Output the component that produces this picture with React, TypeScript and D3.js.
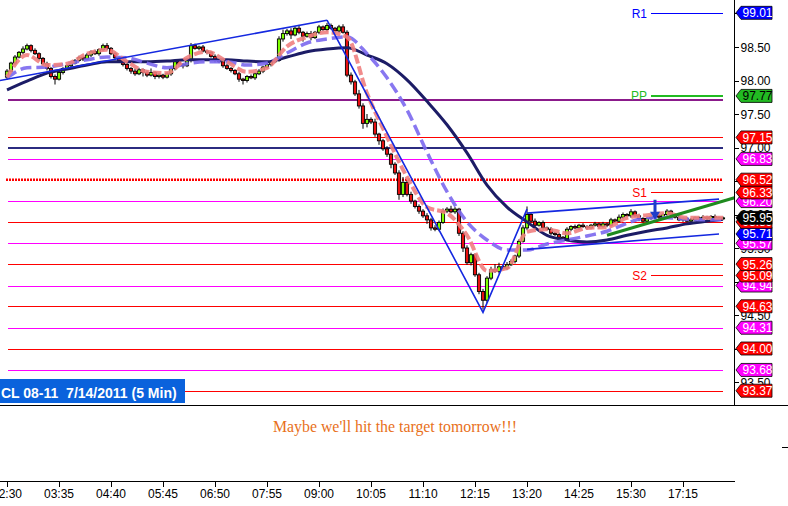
import React from 'react';
import * as d3 from 'd3';

// 5 minute bars, with the daily halt between 16:15 and 17:00
const sessions: [string, string][] = [['02:30', '16:15'], ['17:00', '18:05']];
const parseHM = d3.timeParse('%H:%M');
const fmtHM = d3.timeFormat('%H:%M');
const times: string[] = sessions.flatMap(([a, b]) =>
  d3.timeMinute.every(5)!.range(parseHM(a)!, d3.timeMinute.offset(parseHM(b)!, 1)).map(fmtHM)
);

const timeTicks = ['02:30', '03:35', '04:40', '05:45', '06:50', '07:55', '09:00', '10:05', '11:10', '12:15', '13:20', '14:25', '15:30', '17:15'];
const priceTicks = [93.5, 94.0, 94.5, 95.0, 95.5, 96.0, 96.5, 97.0, 97.5, 98.0, 98.5, 99.0];

const firstOpen = 98.05;
const closes = [
  98.14, 98.26, 98.35, 98.42, 98.47, 98.52, 98.45, 98.40, 98.33, 98.25,
  98.18, 98.06, 98.02, 98.12, 98.18, 98.22, 98.26, 98.30, 98.34, 98.32,
  98.38, 98.43, 98.40, 98.46, 98.52, 98.48, 98.40, 98.34, 98.30, 98.24,
  98.18, 98.14, 98.10, 98.16, 98.12, 98.08, 98.12, 98.06, 98.08, 98.05,
  98.10, 98.18, 98.28, 98.24, 98.22, 98.30, 98.52, 98.48, 98.50, 98.44,
  98.42, 98.36, 98.30, 98.28, 98.22, 98.18, 98.15, 98.10, 98.02, 98.00,
  98.06, 98.04, 98.10, 98.14, 98.20, 98.24, 98.28, 98.30, 98.62, 98.70,
  98.74, 98.68, 98.78, 98.72, 98.66, 98.70, 98.64, 98.72, 98.80, 98.76,
  98.82, 98.78, 98.74, 98.80, 98.72, 98.08, 97.98, 97.80, 97.62, 97.36,
  97.42, 97.38, 97.20, 97.10, 96.98, 96.90, 96.75, 96.62, 96.30, 96.48,
  96.30, 96.20, 96.12, 96.05, 95.98, 95.92, 95.80, 95.78, 95.88, 96.05,
  96.08, 96.04, 96.08, 95.72, 95.50, 95.28, 95.40, 95.10, 94.85, 94.72,
  95.05, 95.18, 95.15, 95.22, 95.20, 95.25, 95.30, 95.38, 95.60, 95.80,
  96.00, 95.90, 95.84, 95.88, 95.80, 95.78, 95.72, 95.70, 95.66, 95.64,
  95.78, 95.82, 95.80, 95.84, 95.82, 95.80, 95.84, 95.86, 95.82, 95.86,
  95.84, 95.92, 95.90, 95.96, 96.00, 95.98, 96.04, 95.98, 95.94, 95.90,
  95.94, 95.96, 95.98, 95.96, 96.00, 96.05, 96.00, 95.96, 95.92, 95.94,
  95.90, 95.92, 95.95, 95.93, 95.96, 95.94, 95.97, 95.95, 95.94, 95.95,
];
// wick lengths above / below the body, in cents
const wickHi = [
  3, 2, 3, 2, 4, 3, 2, 3, 2, 2, 3, 2, 3, 3, 2, 2, 3, 2, 3, 2,
  3, 2, 3, 2, 3, 4, 2, 3, 2, 2, 3, 2, 4, 3, 2, 3, 6, 2, 3, 2,
  3, 3, 2, 4, 2, 3, 4, 3, 2, 3, 2, 2, 3, 2, 2, 3, 2, 2, 3, 2,
  2, 3, 2, 3, 2, 3, 2, 3, 4, 6, 3, 4, 3, 5, 2, 3, 4, 2, 3, 2,
  4, 3, 2, 3, 4, 3, 4, 3, 6, 4, 8, 3, 5, 2, 3, 4, 2, 3, 4, 8,
  3, 4, 2, 3, 3, 4, 3, 4, 3, 4, 3, 5, 3, 2, 3, 4, 3, 2, 3, 4,
  3, 4, 8, 6, 3, 4, 3, 2, 3, 4, 12, 3, 4, 2, 3, 2, 3, 2, 3, 2,
  3, 2, 3, 2, 3, 2, 2, 3, 2, 3, 2, 3, 2, 4, 3, 2, 4, 2, 3, 2,
  2, 3, 2, 3, 2, 3, 2, 2, 3, 2, 2, 3, 2, 2, 3, 2, 2, 3, 2, 2,
];
const wickLo = [
  4, 2, 3, 2, 3, 2, 3, 2, 3, 2, 3, 3, 8, 2, 3, 2, 3, 2, 2, 3,
  2, 3, 2, 3, 2, 3, 2, 3, 2, 3, 3, 4, 3, 2, 6, 3, 2, 4, 3, 3,
  2, 3, 3, 2, 4, 2, 3, 2, 3, 2, 3, 2, 3, 2, 3, 2, 3, 2, 4, 6,
  3, 2, 3, 2, 3, 2, 3, 2, 2, 4, 3, 6, 2, 3, 8, 2, 4, 2, 3, 2,
  3, 2, 4, 3, 2, 3, 4, 3, 4, 8, 6, 3, 4, 6, 3, 4, 6, 3, 8, 4,
  3, 4, 3, 4, 3, 6, 4, 3, 3, 2, 3, 2, 3, 4, 6, 3, 4, 3, 4, 14,
  4, 3, 2, 3, 2, 3, 2, 3, 3, 2, 3, 2, 3, 2, 3, 2, 3, 2, 3, 2,
  2, 3, 2, 3, 2, 3, 2, 2, 3, 2, 3, 2, 3, 2, 3, 2, 3, 2, 4, 2,
  3, 2, 2, 3, 2, 2, 3, 2, 2, 3, 2, 3, 2, 3, 2, 2, 3, 2, 2, 2,
];

// moving averages, read every 5th bar
const maBars = [0, 5, 10, 15, 20, 25, 30, 35, 40, 45, 50, 55, 60, 65, 70, 75, 80, 85, 90, 95, 100, 105, 110, 115, 120, 125, 130, 135, 140, 145, 150, 155, 160, 165, 170, 175, 179];
const fastMa = [98.05, 98.38, 98.23, 98.25, 98.40, 98.46, 98.28, 98.13, 98.11, 98.34, 98.43, 98.28, 98.13, 98.19, 98.51, 98.65, 98.72, 98.65, 97.81, 97.16, 96.56, 96.11, 96.02, 95.69, 95.16, 95.20, 95.74, 95.78, 95.72, 95.80, 95.81, 95.95, 95.99, 96.02, 95.95, 95.95, 95.95];
const midMa = [98.04, 98.19, 98.20, 98.25, 98.31, 98.35, 98.34, 98.26, 98.19, 98.25, 98.28, 98.28, 98.23, 98.26, 98.41, 98.56, 98.62, 98.65, 98.40, 98.04, 97.56, 96.93, 96.34, 95.89, 95.62, 95.47, 95.47, 95.56, 95.62, 95.68, 95.75, 95.87, 95.95, 95.95, 95.93, 95.92, 95.92];
const slowMa = [97.86, 97.99, 98.11, 98.17, 98.23, 98.28, 98.28, 98.28, 98.29, 98.31, 98.31, 98.31, 98.29, 98.28, 98.35, 98.43, 98.47, 98.49, 98.38, 98.25, 98.01, 97.69, 97.34, 96.92, 96.44, 96.11, 95.89, 95.69, 95.62, 95.59, 95.62, 95.69, 95.75, 95.80, 95.86, 95.90, 95.93];

// levels
const redLevels = [97.15, 95.89, 95.26, 94.63, 94.0, 93.37];
const magentaLevels = [96.83, 96.2, 95.57, 94.94, 94.31, 93.68];
const purpleLevel = 97.71;
const navyLevel = 97.0;
const dottedLevel = 96.52;
const pivotNames = ['R1', 'PP', 'S1', 'S2'];
const pivotValues = [99.01, 97.77, 96.33, 95.09];
const pivotStart = '15:55';

// drawn lines: [time, price]
const upperTrend: [string, number][] = [['02:30', 98.02], ['09:10', 98.9]];
const zigzag: [string, number][] = [['09:10', 98.9], ['12:25', 94.54], ['13:20', 96.08]];
const channelTop: [string, number][] = [['13:20', 96.02], ['18:00', 96.23]];
const channelBottom: [string, number][] = [['13:20', 95.48], ['18:00', 95.71]];
const greenTrend: [string, number][] = [['15:00', 95.69], ['18:05', 96.2]];
const arrowMark: [string, number, number] = ['16:00', 96.22, 95.92];

const title = 'CL 08-11  7/14/2011 (5 Min)';
const note = "Maybe we'll hit the target tomorrow!!!";

const C = {
  red: '#ff0000', magenta: '#ff00ff', purple: '#8b1a8b', navy: '#2b2b80',
  blue: '#0000ff', green: '#22bb22', up: '#7fff00', down: '#e81010',
  fast: '#f08080', mid: '#7b68ee', slow: '#1c1c66', trend: '#1428e0',
  greenTrend: '#1f8a1f', arrow: '#1f3cc8', box: '#0a62dc', note: '#e8701a',
};

const font = 'Liberation Sans, Arial, sans-serif';

export default function App() {
  const n = times.length;
  const xi = d3.scaleLinear().domain([0, n - 1]).range([7, 723]);
  const x = (t: string) => xi(times.indexOf(t));
  const y = d3.scaleLinear().domain([98.5, 93.5]).range([47, 382]);
  const yc = (v: number) => Math.round(y(v)) + 0.5; // crisp 1px rules
  const left = 8;
  const right = xi(n - 1);
  const axisX = 734.5;
  const panelBottom = 405;
  const timeAxisY = 481;

  const candles = closes.map((c, i) => {
    const o = i === 0 ? firstOpen : closes[i - 1];
    const h = Math.max(o, c) + wickHi[i] / 100;
    const l = Math.min(o, c) - wickLo[i] / 100;
    return { i, o, c, h, l };
  });

  const maLine = d3
    .line<number>()
    .x((_, k) => xi(maBars[k]))
    .y((v) => y(v))
    .curve(d3.curveMonotoneX);

  const seg = d3
    .line<[string, number]>()
    .x((d) => x(d[0]))
    .y((d) => y(d[1]));

  // extend a two point line to a given pixel x
  const ray = (pts: [string, number][], toLeft: number | null, toRight: number | null) => {
    const x1 = x(pts[0][0]), y1 = y(pts[0][1]);
    const x2 = x(pts[1][0]), y2 = y(pts[1][1]);
    const k = (y2 - y1) / (x2 - x1);
    const a = toLeft == null ? [x1, y1] : [toLeft, y1 + k * (toLeft - x1)];
    const b = toRight == null ? [x2, y2] : [toRight, y2 + k * (toRight - x2)];
    return `M${a[0]},${a[1]}L${b[0]},${b[1]}`;
  };

  const tags: { v: number; bg: string; fg: string }[] = [
    ...pivotValues.map((v, k) => ({ v, bg: [C.blue, C.green, C.red, C.red][k], fg: k === 1 ? '#000' : '#fff' })),
    ...redLevels.map((v) => ({ v, bg: C.red, fg: '#fff' })),
    { v: dottedLevel, bg: C.red, fg: '#fff' },
    ...magentaLevels.map((v) => ({ v, bg: C.magenta, fg: '#fff' })),
    { v: channelBottom[1][1], bg: C.blue, fg: '#fff' },
    { v: closes[n - 1], bg: '#000', fg: '#fff' },
  ];
  // upper tags sit on top of the ones below, the last price on top of all
  const tagOrder = [...tags].sort((a, b) => a.v - b.v);
  const drawOrder = [...tagOrder.filter((t) => t.bg !== '#000'), ...tagOrder.filter((t) => t.bg === '#000')];

  const tagPath = (cy: number) =>
    `M${axisX + 1.5},${cy}L${axisX + 6.5},${cy - 6.5}L772,${cy - 6.5}L772,${cy + 6.5}L${axisX + 6.5},${cy + 6.5}Z`;

  return (
    <svg width={788} height={506} style={{ position: 'absolute', left: 0, top: 0, background: '#fff' }} fontFamily={font}>
      <rect width={788} height={506} fill="#fff" />

      {/* levels */}
      <g shapeRendering="crispEdges">
        {redLevels.map((v) => (
          <line key={'r' + v} x1={left} x2={right} y1={yc(v)} y2={yc(v)} stroke={C.red} strokeWidth={1} />
        ))}
        {magentaLevels.map((v) => (
          <line key={'m' + v} x1={left} x2={right} y1={yc(v)} y2={yc(v)} stroke={C.magenta} strokeWidth={1} />
        ))}
        <line x1={left} x2={right} y1={Math.round(y(purpleLevel))} y2={Math.round(y(purpleLevel))} stroke={C.purple} strokeWidth={2} />
        <line x1={left} x2={right} y1={Math.round(y(navyLevel))} y2={Math.round(y(navyLevel))} stroke={C.navy} strokeWidth={2} />
      </g>
      <line x1={left - 2} x2={right} y1={y(dottedLevel)} y2={y(dottedLevel)} stroke={C.red} strokeWidth={2.5} strokeDasharray="2,1" />

      {pivotNames.map((name, k) => {
        const col = [C.blue, C.green, C.red, C.red][k];
        const yy = k === 1 ? Math.round(y(pivotValues[k])) : yc(pivotValues[k]);
        return (
          <g key={name}>
            <line x1={x(pivotStart)} x2={right} y1={yy} y2={yy} stroke={col} strokeWidth={k === 1 ? 2 : 1} shapeRendering="crispEdges" />
            <text x={x(pivotStart) - 4} y={yy + 4} textAnchor="end" fontSize={12} fill={col}>{name}</text>
          </g>
        );
      })}

      {/* candles */}
      {candles.map((d) => {
        const cx = xi(d.i);
        const top = y(Math.max(d.o, d.c));
        const bot = y(Math.min(d.o, d.c));
        return (
          <g key={d.i}>
            <line x1={cx} x2={cx} y1={y(d.h)} y2={y(d.l)} stroke="#000" strokeWidth={1} />
            <rect x={cx - 1.6} y={top} width={3.2} height={Math.max(1, bot - top)} fill={d.c >= d.o ? C.up : C.down} stroke="#000" strokeWidth={0.9} />
          </g>
        );
      })}

      {/* moving averages */}
      <path d={maLine(slowMa) ?? ''} fill="none" stroke={C.slow} strokeWidth={3} />
      <path d={maLine(midMa) ?? ''} fill="none" stroke={C.mid} strokeWidth={3.5} strokeDasharray="11,5" opacity={0.9} />
      <path d={maLine(fastMa) ?? ''} fill="none" stroke={C.fast} strokeWidth={4} strokeDasharray="9,3" opacity={0.9} />

      {/* drawn lines */}
      <path d={ray(upperTrend, 0, null)} stroke={C.trend} strokeWidth={1.6} fill="none" />
      <path d={seg(zigzag) ?? ''} stroke={C.trend} strokeWidth={1.6} fill="none" />
      <path d={seg(channelTop) ?? ''} stroke={C.trend} strokeWidth={1.6} fill="none" />
      <path d={seg(channelBottom) ?? ''} stroke={C.trend} strokeWidth={1.6} fill="none" />
      <path d={ray(greenTrend, null, axisX)} stroke={C.greenTrend} strokeWidth={3} fill="none" />
      {(() => {
        const ax = x(arrowMark[0]);
        const y0 = y(arrowMark[1]);
        const y1 = y(arrowMark[2]);
        return (
          <g>
            <line x1={ax} x2={ax} y1={y0} y2={y1 - 7} stroke={C.arrow} strokeWidth={3} />
            <path d={`M${ax - 5},${y1 - 8}L${ax + 5},${y1 - 8}L${ax},${y1}Z`} fill={C.arrow} />
          </g>
        );
      })()}

      {/* price axis */}
      <line x1={axisX} x2={axisX} y1={0} y2={panelBottom} stroke="#000" shapeRendering="crispEdges" />
      {priceTicks.map((v) => (
        <g key={'t' + v}>
          <line x1={axisX} x2={axisX + 4} y1={yc(v)} y2={yc(v)} stroke="#000" shapeRendering="crispEdges" />
          <text x={axisX + 6} y={y(v) + 4.5} fontSize={12} fill="#000">{v.toFixed(2)}</text>
        </g>
      ))}
      {drawOrder.map((t, k) => (
        <g key={'tag' + k}>
          <path d={tagPath(y(t.v))} fill={t.bg} stroke="#000" strokeWidth={0.8} />
          <text x={axisX + 8} y={y(t.v) + 4.5} fontSize={12} fill={t.fg}>{t.v.toFixed(2)}</text>
        </g>
      ))}

      {/* panels */}
      <line x1={0} x2={788} y1={panelBottom + 0.5} y2={panelBottom + 0.5} stroke="#000" shapeRendering="crispEdges" />
      <rect x={0} y={379} width={185} height={24} fill={C.box} />
      <text x={1} y={398} fontSize={14} fontWeight="bold" fill="#fff" style={{ whiteSpace: 'pre' }}>{title}</text>
      <text x={273} y={432} fontSize={16} fontFamily="Liberation Serif, serif" fill={C.note} textLength={244} lengthAdjust="spacingAndGlyphs">{note}</text>
      <line x1={782} x2={788} y1={447.5} y2={447.5} stroke="#000" shapeRendering="crispEdges" />

      {/* time axis */}
      <line x1={0} x2={axisX} y1={timeAxisY + 0.5} y2={timeAxisY + 0.5} stroke="#000" shapeRendering="crispEdges" />
      {timeTicks.map((t) => (
        <g key={t}>
          <line x1={x(t)} x2={x(t)} y1={timeAxisY} y2={timeAxisY + 6} stroke="#000" shapeRendering="crispEdges" />
          <text x={x(t)} y={498} textAnchor="middle" fontSize={12} fill="#000">{t}</text>
        </g>
      ))}
    </svg>
  );
}
